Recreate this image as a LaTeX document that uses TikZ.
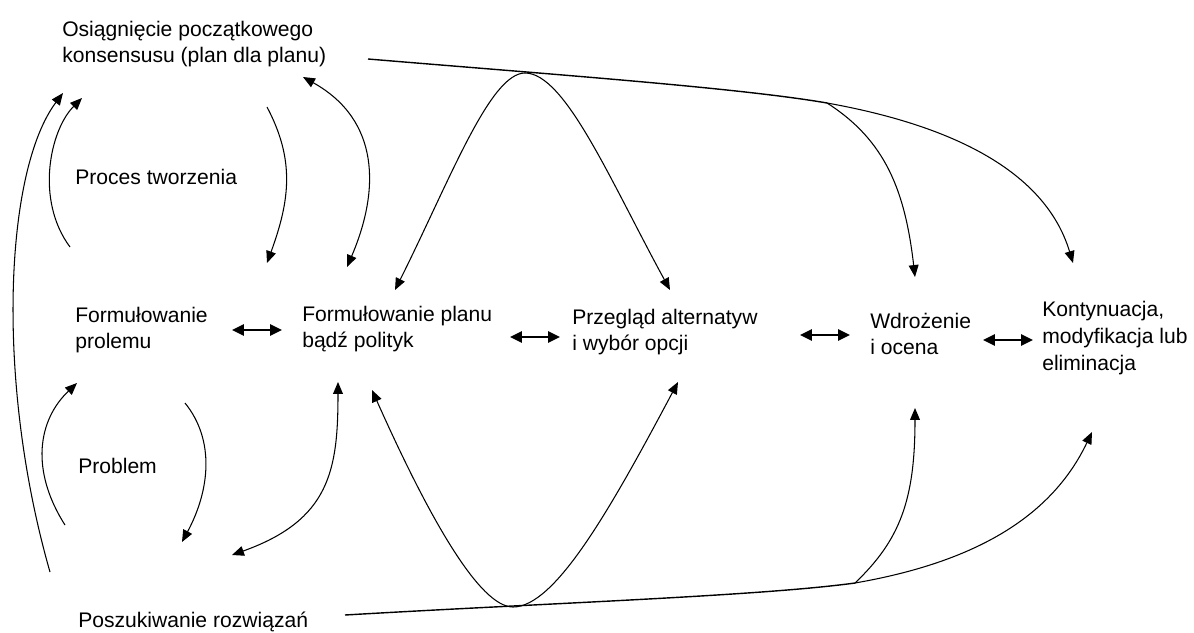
\documentclass[tikz,border=0pt]{standalone}
\usepackage{fontspec}
\setmainfont{Liberation Sans}
\usetikzlibrary{arrows.meta}
\begin{document}
\begin{tikzpicture}[x=0.025cm,y=-0.025cm,
  etykieta/.style={anchor=west,align=left,inner sep=0pt,font=\fontsize{15}{19.1}\selectfont},
  strzalka/.style={line width=0.75pt,-{Triangle[length=8.5pt,width=7pt]}},
  obustronna/.style={line width=0.75pt,{Triangle[length=8.5pt,width=7pt]}-{Triangle[length=8.5pt,width=7pt]}},
  gruba/.style={line width=1.5pt,{Triangle[length=8.5pt,width=8pt]}-{Triangle[length=8.5pt,width=8pt]}},
  linia/.style={line width=1pt}]
\useasboundingbox (0,0) rectangle (1194,632);

% Etapy
\node[etykieta] (konsensus) at (62,44) {Osiągnięcie początkowego\\konsensusu (plan dla planu)};
\node[etykieta] (proces) at (75,177) {Proces tworzenia};
\node[etykieta] (formprob) at (75,330) {Formułowanie\\prolemu};
\node[etykieta] (formplan) at (302,329) {Formułowanie planu\\bądź polityk};
\node[etykieta] (przeglad) at (572,332) {Przegląd alternatyw\\i wybór opcji};
\node[etykieta] (wdrozenie) at (870,334) {Wdrożenie\\i ocena};
\node[etykieta] (kontynuacja) at (1042,338) {Kontynuacja,\\modyfikacja lub\\eliminacja};
\node[etykieta] (problem) at (78,466) {Problem};
\node[etykieta] (poszukiwanie) at (78,622) {Poszukiwanie rozwiązań};

% Punkty rozgałęzień
\coordinate (gora0) at (368,59);
\coordinate (szczyt) at (525,73);
\coordinate (gora1) at (827,103);
\coordinate (dol0) at (345,615);
\coordinate (dolek) at (513,607);
\coordinate (dol1) at (855,583);

% Strzałki poziome
\coordinate (p1) at (232,330); \coordinate (k1) at (282,330);
\coordinate (p2) at (510,337); \coordinate (k2) at (560,337);
\coordinate (p3) at (800,335); \coordinate (k3) at (850,335);
\coordinate (p4) at (983,340); \coordinate (k4) at (1033,340);
\draw[gruba] (p1) -- (k1);
\draw[gruba] (p2) -- (k2);
\draw[gruba] (p3) -- (k3);
\draw[gruba] (p4) -- (k4);

% Lewa strona
\draw[strzalka] (50,572) .. controls (-5,380) and (5,170) .. (63,93);
\draw[strzalka] (70,247) .. controls (35,200) and (50,130) .. (82,98);
\draw[strzalka] (267,107) .. controls (295,160) and (290,200) .. (267,263);
\draw[obustronna] (303,77) .. controls (380,120) and (380,190) .. (347,267);
\draw[strzalka] (65,525) .. controls (30,470) and (38,420) .. (77,383);
\draw[strzalka] (185,403) .. controls (215,440) and (210,490) .. (182,542);
\draw[obustronna] (232,555) .. controls (330,520) and (338,470) .. (338,382);

% Linia górna
\draw[linia] (gora0) .. controls (560,75) and (740,88) .. (gora1);
\draw[strzalka] (gora1) .. controls (950,125) and (1045,170) .. (1073,263);
\draw[strzalka] (gora1) .. controls (885,140) and (905,190) .. (915,277);
\draw[strzalka] (szczyt) .. controls (490,73) and (450,180) .. (395,290);
\draw[strzalka] (szczyt) .. controls (565,73) and (610,180) .. (670,290);

% Linia dolna
\draw[linia] (dol0) .. controls (550,603) and (760,596) .. (dol1);
\draw[strzalka] (dol1) .. controls (970,563) and (1050,520) .. (1092,432);
\draw[strzalka] (dol1) .. controls (900,540) and (915,500) .. (915,408);
\draw[strzalka] (dolek) .. controls (480,607) and (430,520) .. (372,390);
\draw[strzalka] (dolek) .. controls (555,607) and (610,510) .. (678,382);
\end{tikzpicture}
\end{document}
